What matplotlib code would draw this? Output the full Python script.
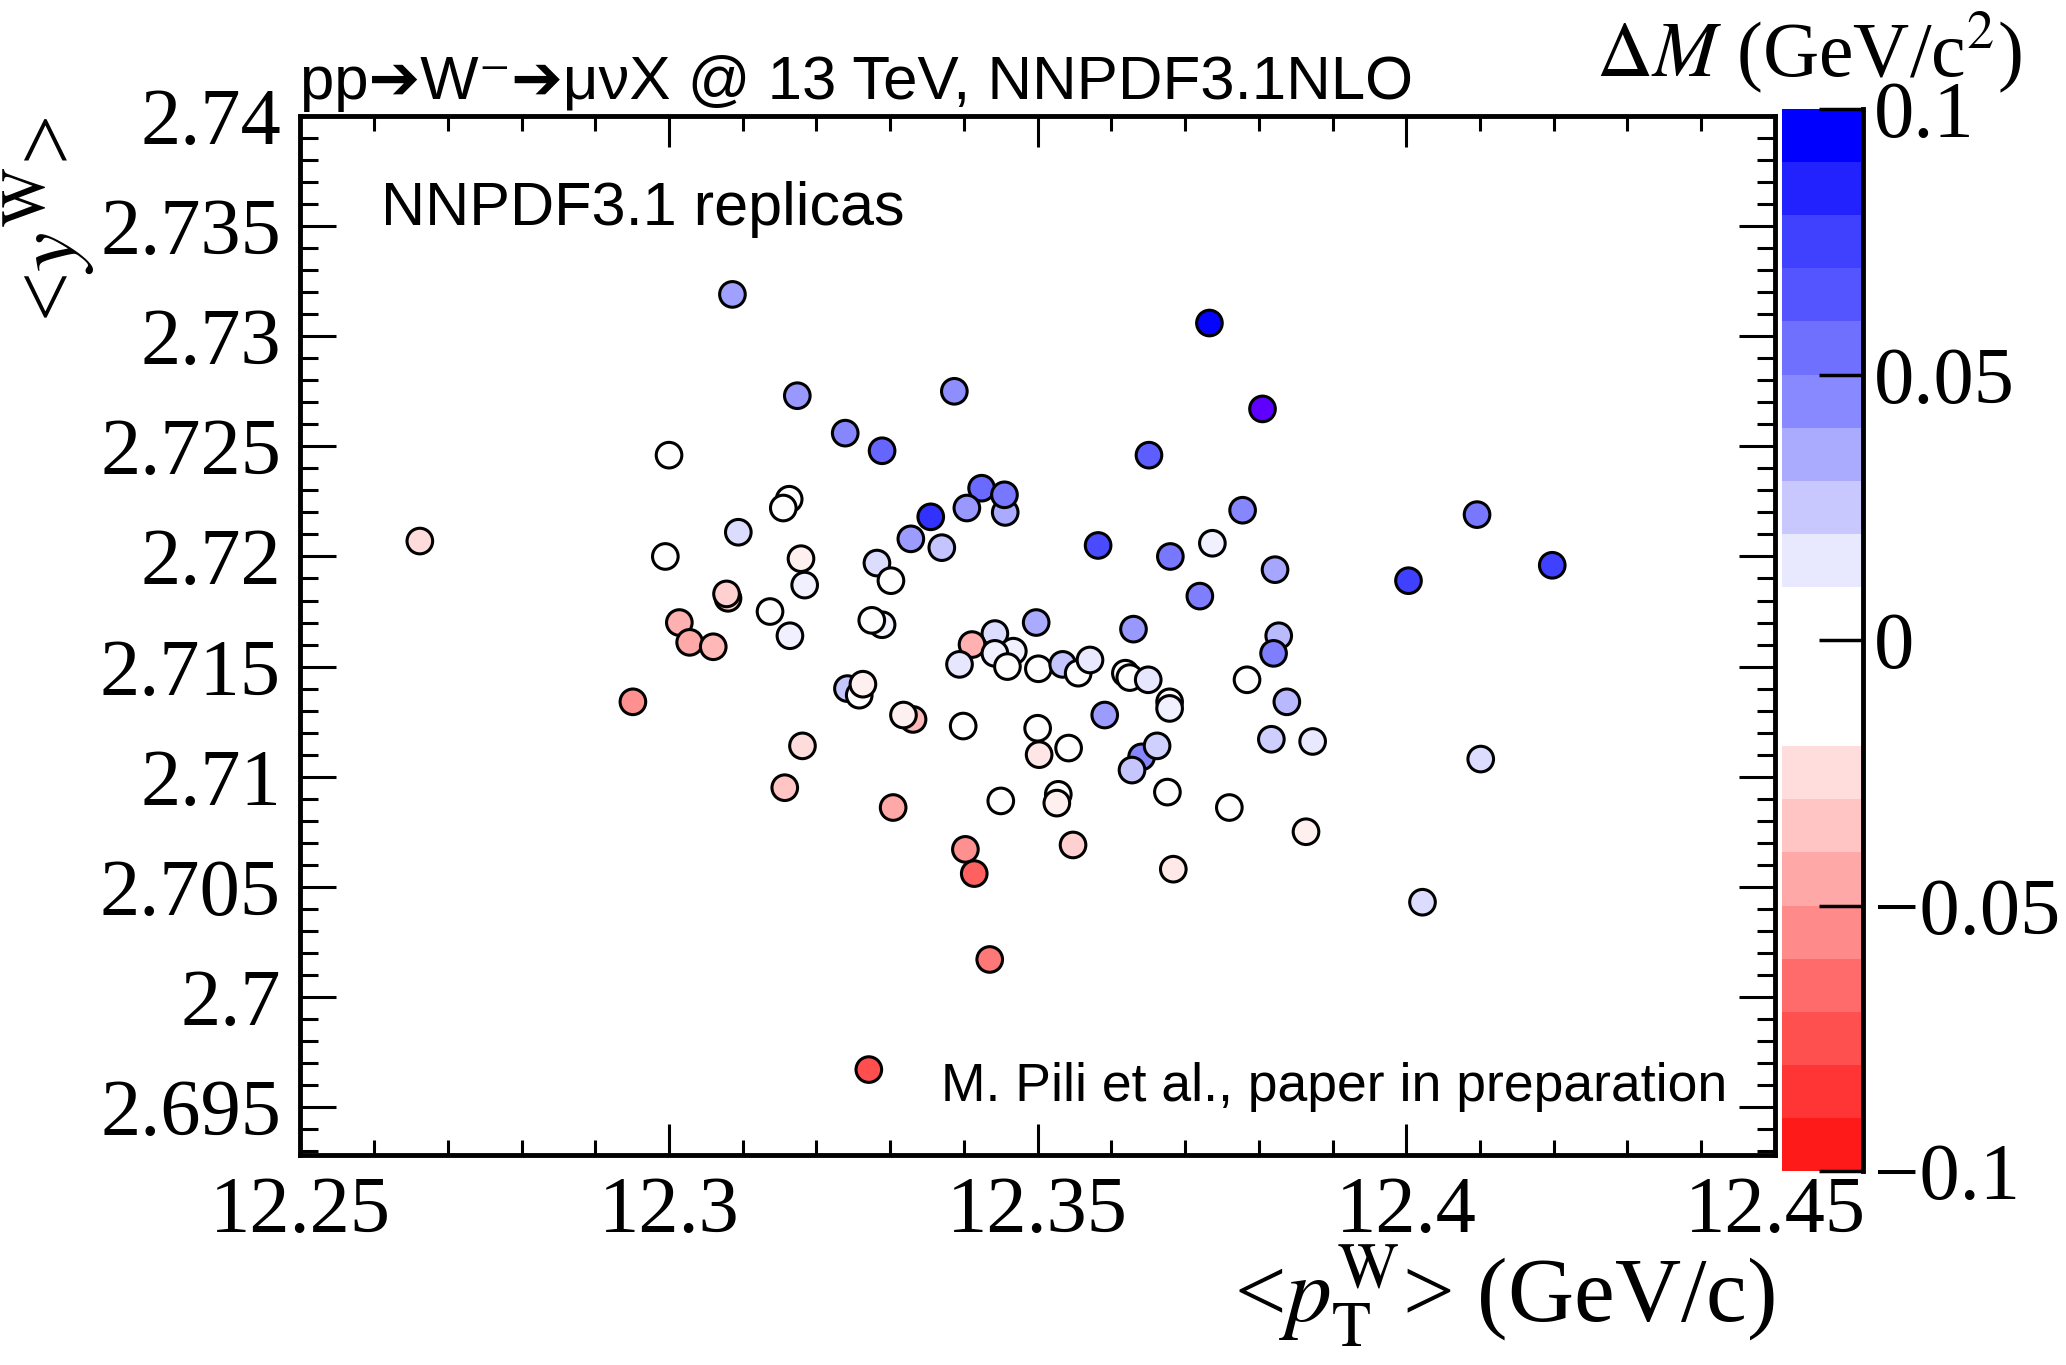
import numpy as np
import matplotlib
matplotlib.use("Agg")
from matplotlib import pyplot as plt
from matplotlib.colors import ListedColormap, BoundaryNorm, LinearSegmentedColormap, Normalize
from matplotlib.cm import ScalarMappable
from matplotlib.ticker import MultipleLocator, FixedLocator, FixedFormatter

plt.rcParams["mathtext.fontset"] = "stix"

# <pT^W> (GeV/c), <y^W>, Delta M (GeV/c^2) for each NNPDF3.1 replica
pt_w = [12.3086, 12.3174, 12.3000, 12.3163, 12.3155, 12.3094, 12.2662, 12.2995, 12.3179, 12.3184,
        12.3080, 12.3078, 12.3137, 12.3014, 12.3028, 12.3060, 12.3164, 12.2951, 12.3733, 12.3387,
        12.3239, 12.3289, 12.3651, 12.3424, 12.3456, 12.3455, 12.3404, 12.3355, 12.3328, 12.3370,
        12.3582, 12.3680, 12.3720, 12.3737, 12.3282, 12.3301, 12.3289, 12.3275, 12.3498, 12.3630,
        12.3442, 12.3411, 12.3467, 12.3442, 12.3459, 12.3394, 12.3501, 12.3534, 12.3555, 12.3571,
        12.3619, 12.3625, 12.3650, 12.3679, 12.3679, 12.3242, 12.3258, 12.3263, 12.3805, 12.3778,
        12.3822, 12.4096, 12.4003, 12.4198, 12.3827, 12.3820, 12.3784, 12.3838, 12.3817, 12.3873,
        12.4101, 12.3760, 12.3864, 12.4022, 12.3181, 12.3157, 12.3331, 12.3318, 12.3399, 12.3500,
        12.3502, 12.3542, 12.3591, 12.3641, 12.3662, 12.3628, 12.3676, 12.3304, 12.3450, 12.3528,
        12.3526, 12.3548, 12.3402, 12.3414, 12.3684, 12.3435, 12.3271]
y_w = [2.7319, 2.7273, 2.7246, 2.7226, 2.7222, 2.7211, 2.7207, 2.7200, 2.7199, 2.7187,
       2.7181, 2.7183, 2.7175, 2.7170, 2.7161, 2.7159, 2.7164, 2.7134, 2.7306, 2.7275,
       2.7256, 2.7248, 2.7246, 2.7231, 2.7220, 2.7228, 2.7222, 2.7218, 2.7208, 2.7204,
       2.7205, 2.7200, 2.7182, 2.7206, 2.7197, 2.7189, 2.7169, 2.7171, 2.7170, 2.7167,
       2.7165, 2.7160, 2.7157, 2.7156, 2.7150, 2.7151, 2.7149, 2.7151, 2.7147, 2.7153,
       2.7147, 2.7145, 2.7144, 2.7134, 2.7131, 2.7140, 2.7137, 2.7142, 2.7267, 2.7221,
       2.7194, 2.7219, 2.7189, 2.7196, 2.7164, 2.7156, 2.7144, 2.7134, 2.7117, 2.7116,
       2.7108, 2.7086, 2.7075, 2.7043, 2.7114, 2.7095, 2.7126, 2.7128, 2.7123, 2.7122,
       2.7110, 2.7113, 2.7128, 2.7109, 2.7114, 2.7103, 2.7093, 2.7086, 2.7089, 2.7092,
       2.7088, 2.7069, 2.7067, 2.7056, 2.7058, 2.7017, 2.6967]
delta_m = [0.037, 0.040, 0.000, 0.000, 0.000, 0.014, -0.014, 0.000, -0.006, 0.006,
           -0.015, -0.018, 0.000, -0.031, -0.034, -0.028, 0.006, -0.0435, 0.098, 0.044,
           0.047, 0.060, 0.063, 0.058, 0.033, 0.053, 0.040, 0.080, 0.039, 0.023,
           0.071, 0.053, 0.050, 0.006, 0.014, 0.000, 0.005, 0.000, 0.033, 0.040,
           0.014, -0.031, 0.006, 0.006, 0.000, 0.010, 0.000, 0.023, 0.000, 0.009,
           0.000, 0.000, 0.010, 0.000, 0.006, 0.022, 0.000, -0.006, 0.110, 0.047,
           0.035, 0.053, 0.075, 0.075, 0.027, 0.050, 0.000, 0.028, 0.019, 0.009,
           0.014, 0.000, -0.006, 0.014, -0.014, -0.023, -0.028, -0.006, 0.000, 0.000,
           -0.010, 0.000, 0.039, 0.047, 0.018, 0.022, 0.000, -0.034, 0.000, 0.000,
           -0.006, -0.018, -0.0435, -0.062, -0.009, -0.053, -0.069]

# palette bands (ROOT-style, from -0.1 to 0.1 in steps of 0.01)
band_edges = [-0.1 + 0.01 * i for i in range(21)]
band_colors = ["#FF1A1A", "#FF3535", "#FF5050", "#FF6A6A", "#FF8A8A", "#FFA8A8", "#FFC4C4", "#FFDDDD",
               "#FFFFFF", "#FFFFFF", "#FFFFFF",
               "#E8E8FF", "#C8C8FF", "#AAAAFF", "#8888FF", "#7070FF", "#5555FF", "#4040FF", "#2222FF", "#0000FF"]
cbar_ticks = [-0.1, -0.05, 0, 0.05, 0.1]
cbar_ticklabels = ["\u22120.1", "\u22120.05", "0", "0.05", "0.1"]

xticks = [12.25, 12.3, 12.35, 12.4, 12.45]
xticklabels = ["12.25", "12.3", "12.35", "12.4", "12.45"]
yticks = [2.695, 2.7, 2.705, 2.71, 2.715, 2.72, 2.725, 2.73, 2.735, 2.74]
yticklabels = ["2.695", "2.7", "2.705", "2.71", "2.715", "2.72", "2.725", "2.73", "2.735", "2.74"]

serif = ["Liberation Serif", "DejaVu Serif"]
sans = ["Liberation Sans", "DejaVu Sans"]

fig = plt.figure(figsize=(20.66, 13.65), dpi=100)
ax = fig.add_axes([0.1454, 0.1535, 0.7137, 0.7615])

pt_cmap = LinearSegmentedColormap.from_list("rwb", ["#FF0000", "#FFFFFF", "#0000FF"])
pt_cmap.set_over("#5F00FF")
ax.scatter(pt_w, y_w, c=delta_m, cmap=pt_cmap, norm=Normalize(-0.1, 0.1),
           s=340, edgecolors="black", linewidths=2.2, zorder=3)

ax.set_xlim(12.25, 12.45)
ax.set_ylim(2.6928, 2.74)
ax.xaxis.set_major_locator(FixedLocator(xticks))
ax.xaxis.set_major_formatter(FixedFormatter(xticklabels))
ax.xaxis.set_minor_locator(MultipleLocator(0.01))
ax.yaxis.set_major_locator(FixedLocator(yticks))
ax.yaxis.set_major_formatter(FixedFormatter(yticklabels))
ax.yaxis.set_minor_locator(MultipleLocator(0.001))

ax.tick_params(which="both", direction="in", top=True, right=True, width=2.2)
ax.tick_params(axis="x", which="major", length=22, pad=15)
ax.tick_params(axis="x", which="minor", length=11)
ax.tick_params(axis="y", which="major", length=26, pad=14)
ax.tick_params(axis="y", which="minor", length=13)
for lab in ax.get_xticklabels() + ax.get_yticklabels():
    lab.set_fontfamily(serif)
    lab.set_fontsize(58)
for sp in ax.spines.values():
    sp.set_linewidth(3.5)

ax.set_xlabel(r"<$p_{\mathrm{T}}^{\mathrm{W}}$> (GeV/c)", fontsize=66, family=serif, loc="right")
ax.xaxis.set_label_coords(1.0, -0.085)
ax.set_ylabel(r"<$y^{\mathrm{W}}$>", fontsize=64, family=serif, loc="top")
ax.yaxis.set_label_coords(-0.137, 1.0)

ax.text(0.055, 0.91, "NNPDF3.1 replicas", transform=ax.transAxes, fontsize=44,
        family=sans, va="center", ha="left")
ax.text(0.968, 0.066, "M. Pili et al., paper in preparation", transform=ax.transAxes,
        fontsize=38.5, family=sans, va="center", ha="right")

fig.text(0.1454, 1 - 99 / 1365, "pp\u2794W\u207b\u2794\u03bc\u03bdX @ 13 TeV, NNPDF3.1NLO",
         fontsize=44.5, family=sans, va="baseline", ha="left")
fig.text(2022 / 2066, 1 - 52 / 1365, r"$\Delta M$ (GeV/c$^{2}$)", fontsize=56,
         family=serif, va="center", ha="right")

# palette
cax = fig.add_axes([0.8624, 0.1421, 0.0392, 0.778])
sm = ScalarMappable(norm=BoundaryNorm(band_edges, len(band_colors)), cmap=ListedColormap(band_colors))
cb = fig.colorbar(sm, cax=cax, ticks=cbar_ticks, drawedges=False)
cb.outline.set_visible(False)
cax.spines["right"].set_visible(True)
cax.spines["right"].set_linewidth(3.5)
cax.yaxis.set_major_formatter(FixedFormatter(cbar_ticklabels))
cax.minorticks_off()
cax.tick_params(axis="y", direction="in", length=32, width=2.5, pad=8)
for lab in cax.get_yticklabels():
    lab.set_fontfamily(serif)
    lab.set_fontsize(58)

fig.savefig("out.png", dpi=100)
